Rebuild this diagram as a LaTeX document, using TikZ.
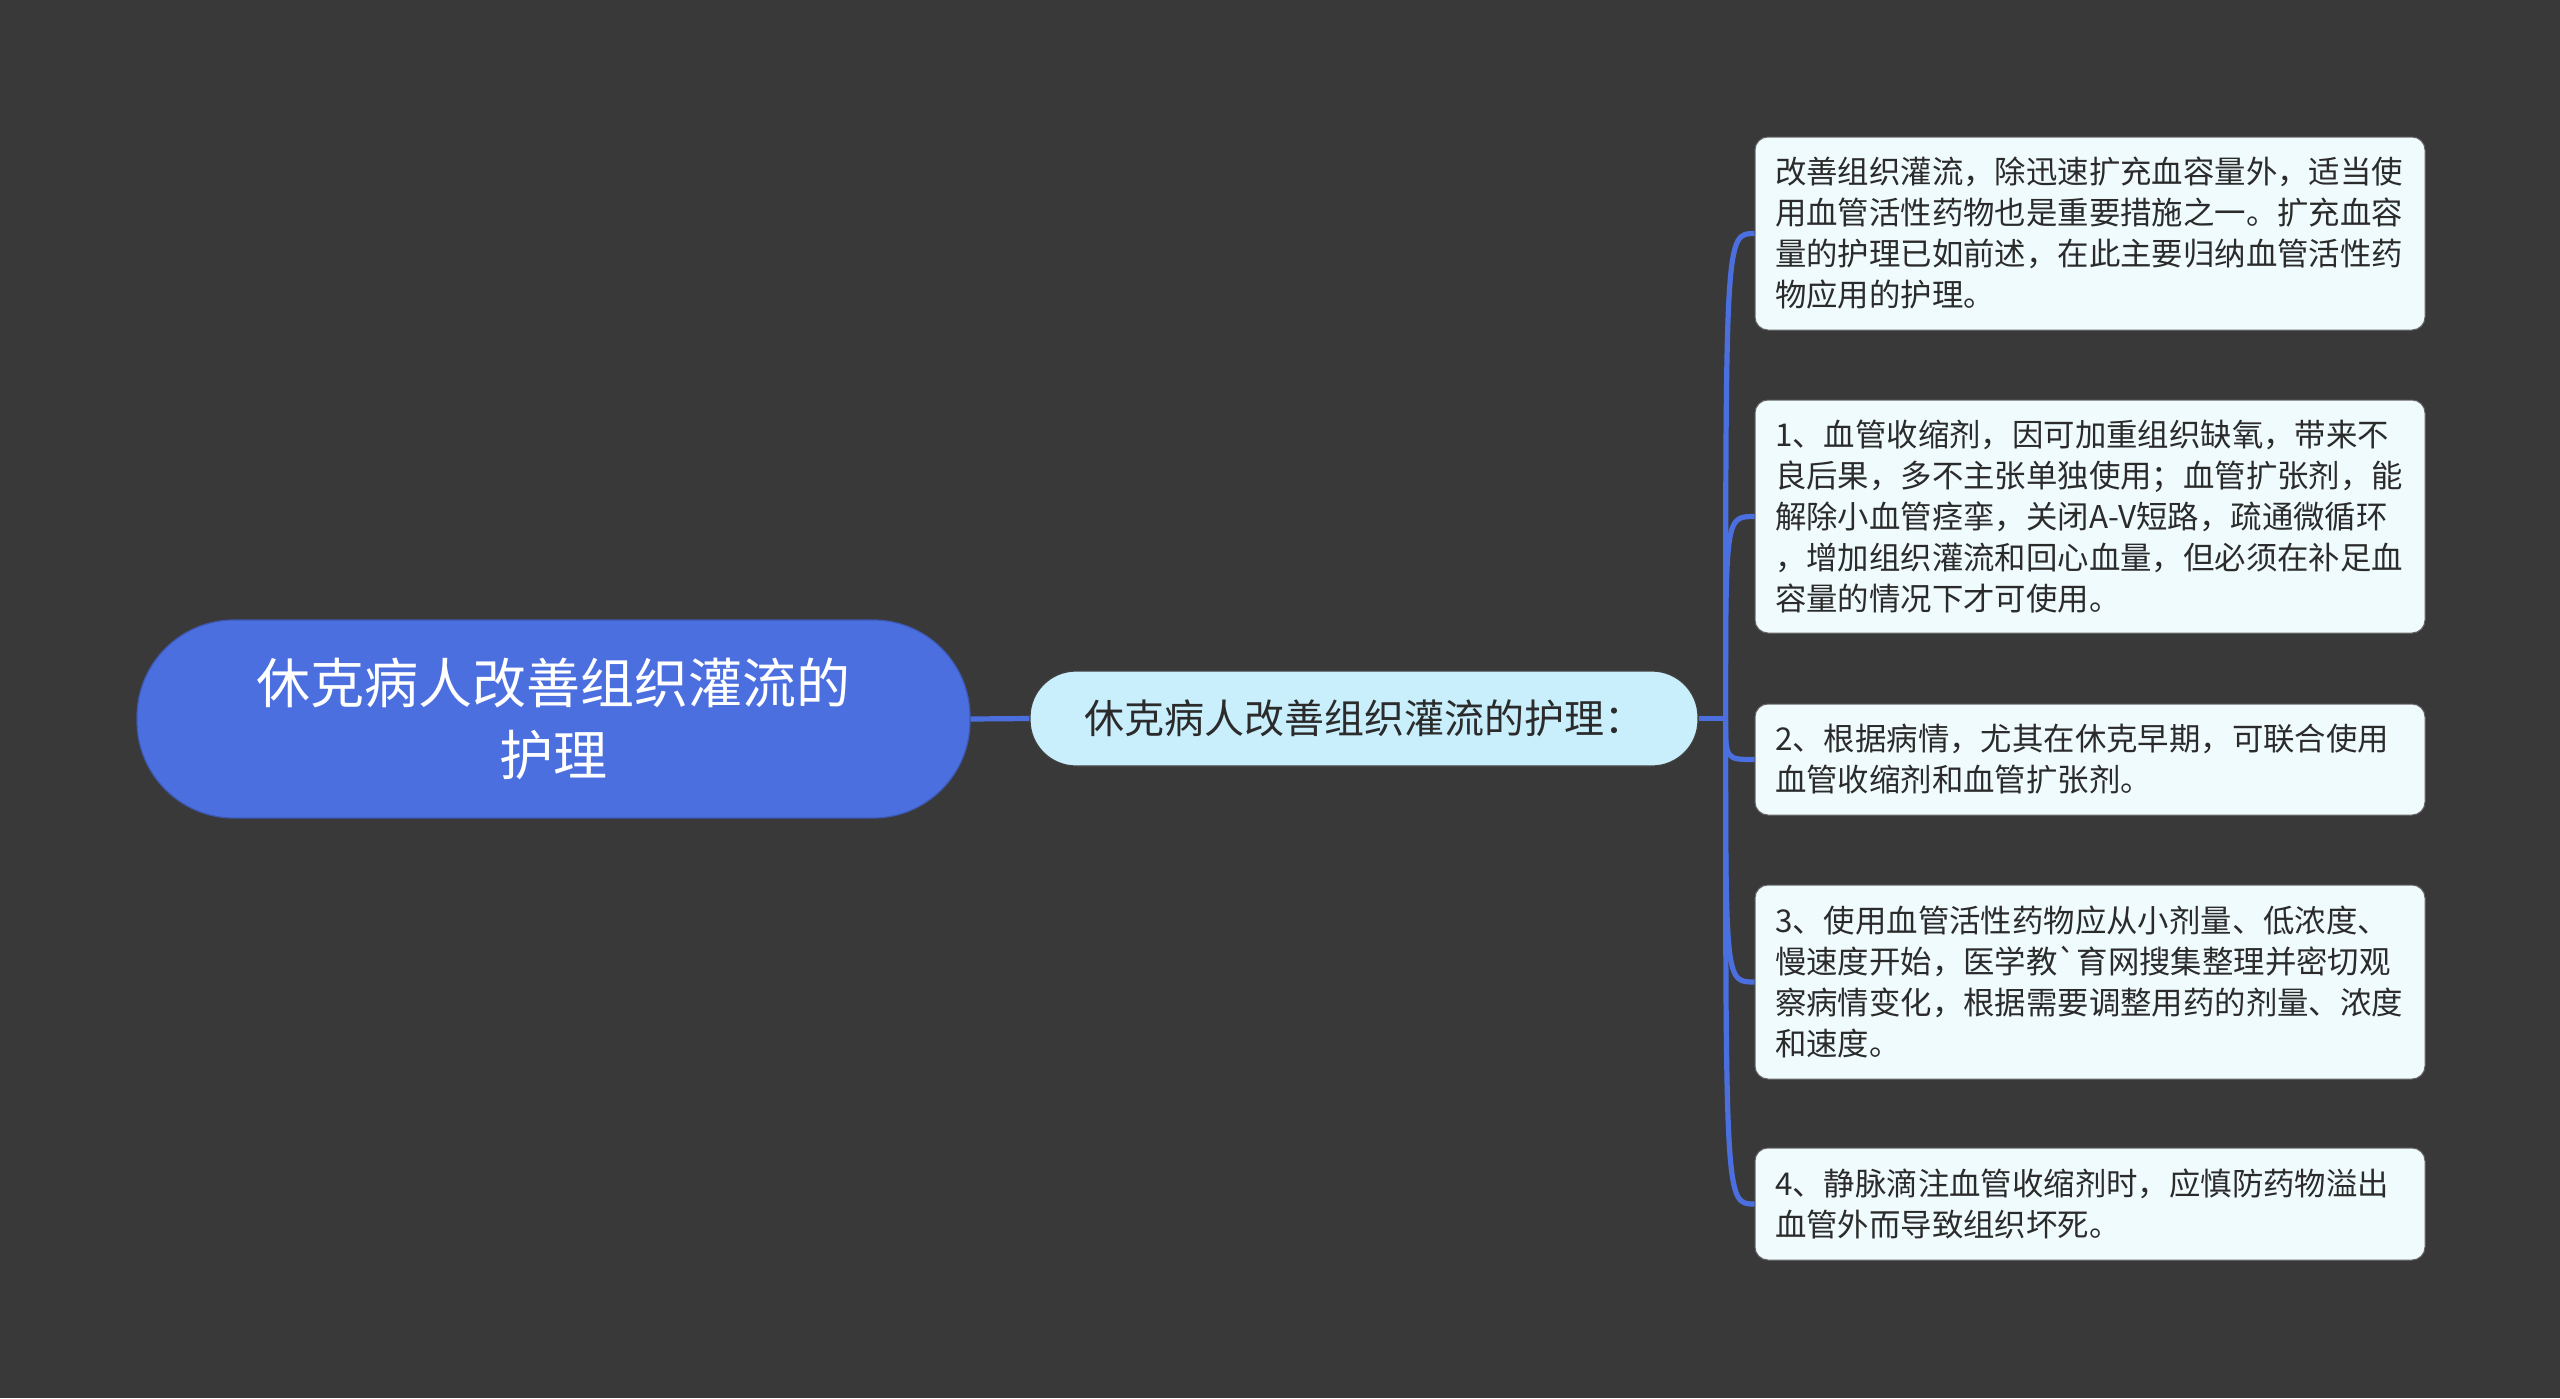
\documentclass[tikz,border=0pt]{standalone}
\usepackage{fontspec}
\newfontfamily\cjk{Noto Sans CJK SC}
\definecolor{bgc}{HTML}{3A393A}
\definecolor{rootc}{HTML}{4C6FE0}
\definecolor{midc}{HTML}{C9EEFC}
\definecolor{leafc}{HTML}{F0FBFD}
\definecolor{txtc}{HTML}{2B2B2B}
\definecolor{linec}{HTML}{4C6FE0}
\tikzset{
  rootbox/.style={fill=rootc, draw=rootc!80!black, line width=0.6pt, rounded corners=48.5pt,
    minimum width=416.5pt, minimum height=99pt, inner sep=0pt, align=center, text=white,
    font=\cjk\fontsize{27pt}{36pt}\selectfont},
  midbox/.style={fill=midc, draw=black!75, line width=0.6pt, rounded corners=23pt,
    minimum width=334pt, minimum height=47.5pt, inner sep=0pt, align=center, text=txtc,
    font=\cjk\fontsize{20pt}{24pt}\selectfont},
  leafbox/.style={fill=leafc, draw=black!60, line width=0.5pt, rounded corners=6.5pt,
    text width=315pt, inner xsep=10pt, inner ysep=0pt, align=left, text=txtc,
    font=\cjk\fontsize{15.7pt}{20.5pt}\selectfont},
  conn/.style={draw=linec, line width=2.6pt},
}
\begin{document}
\begin{tikzpicture}[x=0.5pt,y=-0.5pt]
\useasboundingbox (0,0) rectangle (2560,1398);
\fill[bgc] (0,0) rectangle (2560,1398);

\node[rootbox] (root) at (553.5,719) {休克病人改善组织灌流的\\护理};
\node[midbox] (mid) at (1364,718.5) {休克病人改善组织灌流的护理：};

\node[leafbox, minimum height=96.5pt] (l1) at (2090,233.5) {改善组织灌流，除迅速扩充血容量外，适当使\\用血管活性药物也是重要措施之一。扩充血容\\量的护理已如前述，在此主要归纳血管活性药\\物应用的护理。};
\node[leafbox, minimum height=116.5pt] (l2) at (2090,516.5) {1、血管收缩剂，因可加重组织缺氧，带来不\\良后果，多不主张单独使用；血管扩张剂，能\\解除小血管痉挛，关闭A-V短路，疏通微循环\\，增加组织灌流和回心血量，但必须在补足血\\容量的情况下才可使用。};
\node[leafbox, minimum height=55.5pt] (l3) at (2090,759.5) {2、根据病情，尤其在休克早期，可联合使用\\血管收缩剂和血管扩张剂。};
\node[leafbox, minimum height=97pt] (l4) at (2090,982) {3、使用血管活性药物应从小剂量、低浓度、\\慢速度开始，医学教`育网搜集整理并密切观\\察病情变化，根据需要调整用药的剂量、浓度\\和速度。};
\node[leafbox, minimum height=56pt] (l5) at (2090,1204) {4、静脉滴注血管收缩剂时，应慎防药物溢出\\血管外而导致组织坏死。};

\draw[conn] (root.east) -- (mid.west);
\coordinate (bus) at ([xshift=13.5pt]mid.east);
\draw[conn] (mid.east) -- (bus);
\foreach \l in {l1,l2,l3,l4,l5}{
  \draw[conn] (bus) .. controls (bus |- \l.west) .. (\l.west);
}
\end{tikzpicture}
\end{document}
